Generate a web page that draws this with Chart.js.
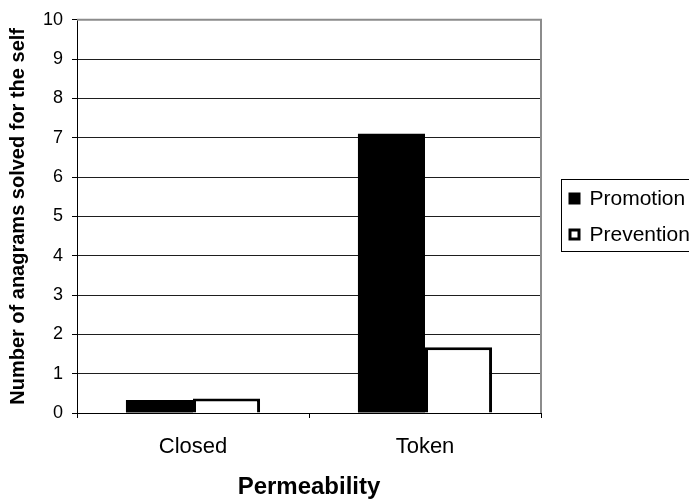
<!DOCTYPE html>
<html>
<head>
<meta charset="utf-8">
<title>Permeability</title>
<script src="https://cdn.jsdelivr.net/npm/chart.js@4/dist/chart.umd.min.js"></script>
<style>
  html, body { margin: 0; padding: 0; background: #ffffff; }
  canvas { display: block; background: #ffffff; }
</style>
</head>
<body>
<canvas id="chart" width="689" height="503"></canvas>
<script>
// Categories and series
const categories = ['Closed', 'Token'];
const promotion = [0.33, 7.1];
const prevention = [0.37, 1.67];
const seriesNames = ['Promotion', 'Prevention'];
// Value-axis tick labels
const yTickValues = [0, 1, 2, 3, 4, 5, 6, 7, 8, 9, 10];

const FONT = '"Liberation Sans", Arial, Helvetica, sans-serif';

// Grey frame along top and right edges of the plot area
const framePlugin = {
  id: 'frame',
  afterDatasetsDraw(chart) {
    const { ctx, chartArea: a } = chart;
    ctx.save();
    ctx.strokeStyle = '#8c8c8c';
    ctx.lineWidth = 2;
    ctx.beginPath();
    ctx.moveTo(a.left, a.top);
    ctx.lineTo(a.right, a.top);
    ctx.lineTo(a.right, a.bottom);
    ctx.stroke();
    ctx.restore();
  }
};

// Boxed legend to the right of the plot
const boxLegend = {
  id: 'boxLegend',
  afterDraw(chart) {
    const { ctx, chartArea: a } = chart;
    const x0 = a.right + 20.5;
    const y0 = 179.5;
    ctx.save();
    ctx.strokeStyle = '#000';
    ctx.lineWidth = 1;
    ctx.strokeRect(x0, y0, 200, 72);
    ctx.font = '21px ' + FONT;
    ctx.textBaseline = 'middle';
    ctx.fillStyle = '#000';
    chart.data.datasets.forEach((ds, i) => {
      const cy = y0 + 19 + i * 36;
      if (ds.borderWidth > 0) {
        ctx.fillStyle = ds.backgroundColor;
        ctx.fillRect(x0 + 7, cy - 6, 12, 12);
        ctx.strokeStyle = ds.borderColor;
        ctx.lineWidth = 3;
        ctx.strokeRect(x0 + 8.5, cy - 4.5, 9, 9);
      } else {
        ctx.fillStyle = ds.backgroundColor;
        ctx.fillRect(x0 + 7, cy - 6, 12, 12);
      }
      ctx.fillStyle = '#000';
      ctx.fillText(ds.label, x0 + 28, cy + 1);
    });
    ctx.restore();
  }
};

new Chart(document.getElementById('chart'), {
  type: 'bar',
  data: {
    labels: categories,
    datasets: [
      {
        label: seriesNames[0],
        data: promotion,
        backgroundColor: '#000000',
        borderWidth: 0
      },
      {
        label: seriesNames[1],
        data: prevention,
        backgroundColor: '#ffffff',
        borderColor: '#000000',
        borderWidth: 3
      }
    ]
  },
  options: {
    responsive: false,
    animation: false,
    devicePixelRatio: 1,
    layout: { padding: { top: 18, right: 148, bottom: 0, left: 0 } },
    datasets: {
      bar: { categoryPercentage: 0.578, barPercentage: 1.0 }
    },
    plugins: {
      legend: { display: false },
      tooltip: { enabled: false }
    },
    scales: {
      x: {
        offset: true,
        grid: {
          display: true,
          drawOnChartArea: false,
          drawTicks: true,
          tickLength: 5,
          color: '#000'
        },
        border: { display: true, color: '#000', width: 1 },
        ticks: {
          color: '#000',
          padding: 16,
          font: { family: FONT, size: 22 }
        },
        title: {
          display: true,
          text: 'Permeability',
          color: '#000',
          padding: { top: 0, bottom: 1 },
          font: { family: FONT, size: 24, weight: 'bold' }
        },
        afterFit(scale) { scale.height = 90; }
      },
      y: {
        min: 0,
        max: 10,
        afterBuildTicks(scale) {
          scale.ticks = yTickValues.map(v => ({ value: v }));
        },
        grid: {
          color: ctx => (ctx.tick && ctx.tick.value === 10) ? '#8c8c8c' : '#1e1e1e',
          tickColor: '#000',
          tickLength: 5,
          lineWidth: 1
        },
        border: { display: true, color: '#000', width: 1 },
        ticks: {
          color: '#000',
          padding: 9,
          font: { family: FONT, size: 18 }
        },
        title: {
          display: true,
          text: 'Number of anagrams solved for the self',
          color: '#000',
          padding: { top: 6, bottom: 0 },
          font: { family: FONT, size: 20, weight: 'bold' }
        },
        afterFit(scale) { scale.width = 77; }
      }
    }
  },
  plugins: [framePlugin, boxLegend]
});
</script>
</body>
</html>
